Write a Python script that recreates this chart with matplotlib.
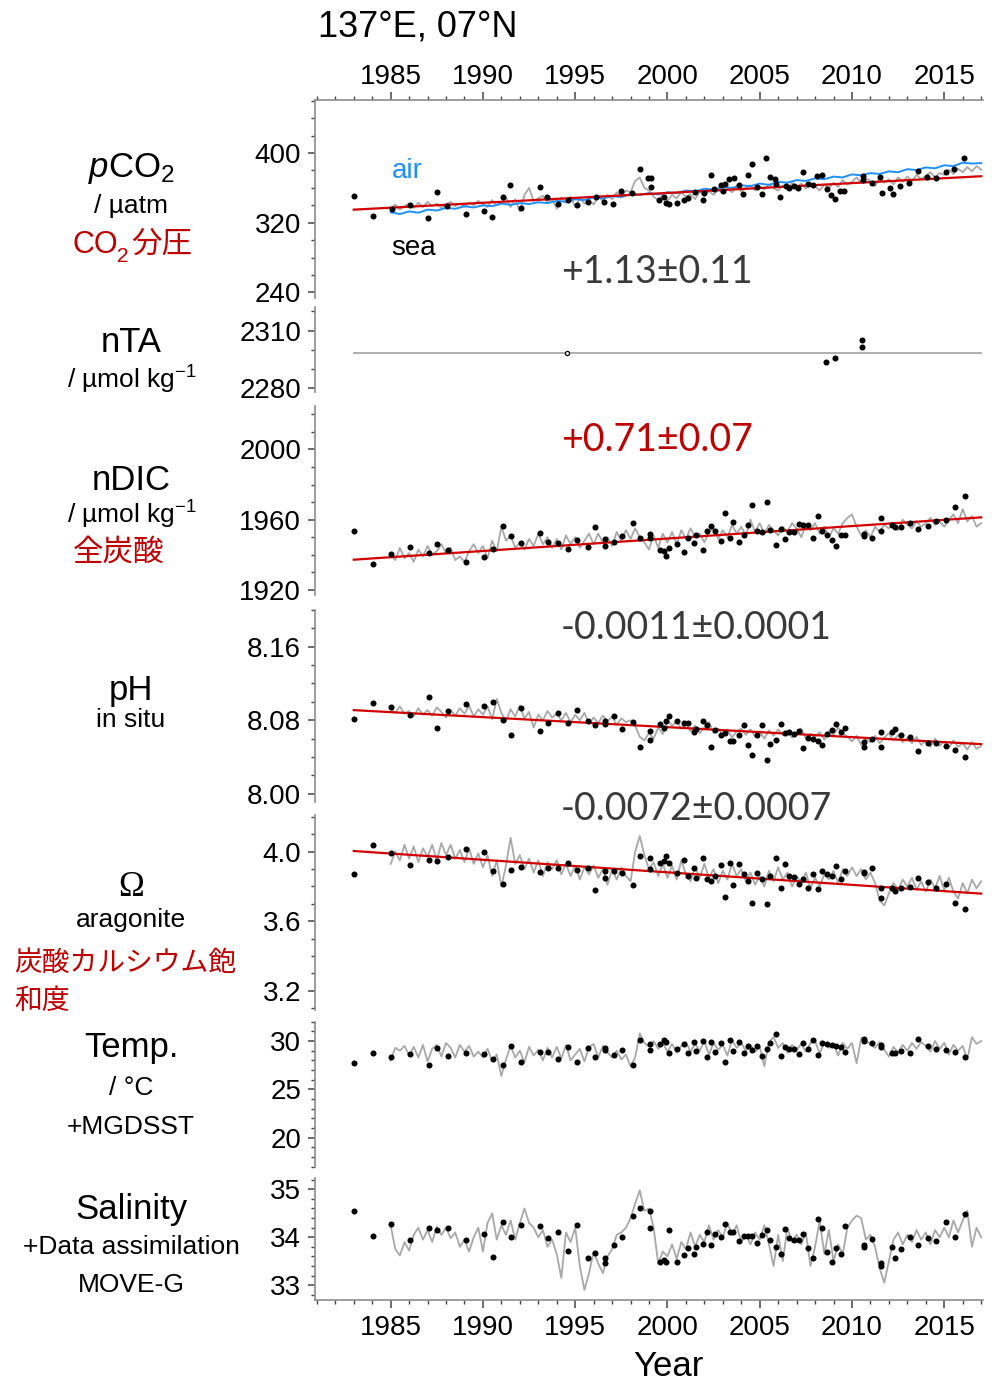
import numpy as np
import matplotlib
matplotlib.use("Agg")
import matplotlib.pyplot as plt
from matplotlib.ticker import MultipleLocator, FormatStrFormatter

plt.rcParams['font.family'] = ['Liberation Sans', 'Noto Sans CJK JP', 'DejaVu Sans']
plt.rcParams['mathtext.fontset'] = 'custom'
plt.rcParams['mathtext.rm'] = 'Liberation Sans'
plt.rcParams['mathtext.it'] = 'Liberation Sans:italic'

# --- data ---
# quarterly model/reanalysis series (grey), 1985.0 .. 2017.0
t_q = np.arange(1985, 2017.001, 0.25)
t_h = np.arange(1985, 2017.001, 0.5)

pco2_air = [332, 330, 333, 331.5, 335, 334, 337, 336, 339, 337.5, 340, 339, 342, 340.5,
            342.5, 341.5, 343.5, 342.5, 345, 344, 347, 346, 349, 348, 350.5, 349.5, 353, 352,
            354, 352.5, 355, 354, 357, 356, 359, 358, 361, 360, 363, 362, 365, 363.5, 367, 366,
            369, 368, 371, 370, 373, 372, 375.5, 374.5, 377, 376, 379, 378, 381.5, 380.5,
            383.5, 382.5, 386, 385, 389, 388, 388.5]
pco2_sea_model = [336, 341, 335, 339, 342, 337, 343, 338, 344, 339, 342, 337, 341, 344, 339, 342,
                  338, 343, 340, 345, 341, 338, 346, 340, 343, 349, 338, 347, 333, 352, 360, 345,
                  348, 351, 343, 347, 336, 349, 343, 350, 338, 348, 342, 346, 341, 350, 345, 352,
                  347, 355, 350, 357, 355, 368, 372, 360, 357, 350, 346, 352, 345, 352, 348, 355,
                  350, 353, 347, 356, 351, 356, 352, 358, 354, 359, 355, 361, 356, 360, 363, 357,
                  362, 358, 364, 360, 357, 363, 359, 366, 361, 365, 359, 366, 362, 357, 364, 360,
                  366, 361, 369, 364, 367, 372, 366, 371, 368, 362, 371, 366, 370, 364, 372, 367,
                  373, 368, 375, 370, 374, 378, 372, 377, 375, 381, 376, 382, 378, 384, 379, 385,
                  381]
pco2_yr = [1983.03, 1984.05, 1985.06, 1986.05, 1987.04, 1987.5, 1988.04, 1989.07, 1990.08, 1990.51,
           1991.07, 1991.49, 1992.07, 1993.1, 1993.47, 1994.05, 1994.6, 1995.09, 1995.72, 1996.12,
           1996.56, 1997.07, 1997.49, 1998.1, 1998.52, 1998.97, 1999.1, 1999.1, 1999.56, 1999.82,
           1999.92, 2000.1, 2000.54, 2000.87, 2001.1, 2001.5, 2001.95, 2002.0, 2002.35, 2002.53,
           2002.91, 2003.0, 2003.12, 2003.36, 2003.59, 2003.9, 2004.11, 2004.35, 2004.57, 2004.87,
           2005.11, 2005.36, 2005.56, 2005.83, 2005.87, 2006.1, 2006.41, 2006.59, 2006.86, 2007.1,
           2007.37, 2007.61, 2007.88, 2008.13, 2008.36, 2008.64, 2008.87, 2009.1, 2009.36, 2009.59,
           2010.59, 2010.59, 2011.08, 2011.53, 2011.6, 2012.07, 2012.24, 2012.61, 2013.11, 2013.57,
           2014.09, 2014.56, 2015.1, 2015.53, 2016.09]
pco2_obs = [351, 328, 336, 340, 325, 355, 339, 330, 333, 326,
            350, 363, 337, 361, 349, 341, 346, 340, 344, 350,
            344, 342, 356, 354, 382, 371, 371, 361, 346, 350,
            343, 342, 343, 346, 348, 355, 346, 354, 375, 359,
            363, 357, 365, 370, 371, 363, 353, 375, 387, 361,
            353, 394, 372, 370, 365, 350, 362, 360, 362, 360,
            378, 365, 363, 374, 375, 359, 352, 347, 357, 357,
            374, 369, 366, 373, 354, 360, 353, 362, 366, 379,
            372, 371, 378, 382, 394]
pco2_fit = [335.0, 373.4]

nta_mean = [2298, 2298]
nta_yr = [1994.56, 2008.6, 2009.08, 2010.55, 2010.55]
nta_obs = [2298, 2293.7, 2295.8, 2305, 2301.5]

trend_yr = [1983.0, 2017.0]

# cruise times shared by the nDIC / pH / Omega / T / S panels
cruise_yr = [1983.04, 1984.03, 1985.04, 1986.06, 1987.07, 1987.5, 1988.1, 1989.07, 1990.06, 1990.53,
             1991.09, 1991.5, 1992.08, 1993.09, 1993.52, 1994.08, 1994.6, 1995.09, 1995.7, 1996.1,
             1996.6, 1996.6, 1997.09, 1997.52, 1998.13, 1998.53, 1999.07, 1999.07, 1999.57, 1999.8,
             1999.9, 2000.08, 2000.51, 2000.87, 2001.1, 2001.43, 2001.57, 2001.95, 2002.13, 2002.36,
             2002.58, 2002.92, 2003.12, 2003.39, 2003.57, 2003.9, 2004.15, 2004.38, 2004.58, 2004.87,
             2005.14, 2005.37, 2005.57, 2005.86, 2006.13, 2006.38, 2006.6, 2006.87, 2007.12, 2007.37,
             2007.61, 2007.91, 2008.16, 2008.4, 2008.67, 2008.92, 2009.12, 2009.41, 2009.62, 2010.63,
             2010.63, 2011.1, 2011.55, 2011.59, 2012.16, 2012.31, 2012.65, 2013.17, 2013.57, 2014.11,
             2014.56, 2015.12, 2015.57, 2016.14]

ndic_obs = [1953.3, 1935.0, 1940.6, 1944.2, 1941.1, 1946.3, 1942.5, 1935.8, 1938.8, 1943.4,
            1956.6, 1950.6, 1946.5, 1952.4, 1947.2, 1946.8, 1943.2, 1948.4, 1944.2, 1955.6,
            1948.7, 1944.9, 1947.0, 1950.6, 1958.1, 1949.7, 1949.7, 1952.0, 1942.5, 1942.1,
            1939.2, 1944.0, 1945.9, 1941.5, 1949.7, 1946.6, 1951.2, 1942.5, 1953.7, 1956.4,
            1953.5, 1948.0, 1963.8, 1949.5, 1958.6, 1947.2, 1951.0, 1957.1, 1968.2, 1953.5,
            1952.9, 1970.1, 1953.9, 1945.5, 1954.8, 1948.7, 1952.7, 1952.9, 1957.5, 1957.1,
            1957.1, 1949.7, 1962.1, 1953.5, 1951.0, 1948.5, 1944.9, 1951.0, 1951.4, 1952.0,
            1950.6, 1949.5, 1961.1, 1953.5, 1957.1, 1955.8, 1955.8, 1958.3, 1954.8, 1956.4,
            1959.2, 1960.0, 1967.0, 1973.7]
ndic_model = [1940, 1937, 1944, 1938, 1941, 1936, 1943, 1939, 1945, 1940, 1942, 1946, 1941, 1944,
              1937, 1939, 1936, 1942, 1946, 1941, 1945, 1938, 1948, 1942, 1956, 1948, 1951, 1944,
              1947, 1943, 1949, 1945, 1952, 1946, 1950, 1944, 1949, 1943, 1951, 1946, 1950, 1944,
              1948, 1952, 1946, 1952, 1947, 1950, 1945, 1953, 1948, 1954, 1949, 1955, 1950, 1947,
              1943, 1951, 1944, 1952, 1947, 1953, 1946, 1954, 1949, 1955, 1950, 1952, 1947, 1953,
              1955, 1949, 1954, 1950, 1957, 1952, 1956, 1951, 1960, 1953, 1958, 1952, 1957, 1954,
              1951, 1956, 1953, 1958, 1955, 1950, 1957, 1954, 1958, 1952, 1956, 1950, 1955, 1952,
              1958, 1961, 1963, 1956, 1951, 1954, 1950, 1956, 1953, 1957, 1955, 1958, 1954, 1960,
              1957, 1955, 1959, 1956, 1958, 1961, 1957, 1959, 1956, 1960, 1963, 1958, 1966, 1959,
              1962, 1956, 1958]
ndic_fit = [1937.2, 1961.3]

ph_obs = [8.0815, 8.0990, 8.0946, 8.0858, 8.1055, 8.0720, 8.0902, 8.0975, 8.0953, 8.0997,
          8.0800, 8.0640, 8.0931, 8.0684, 8.0775, 8.0884, 8.0775, 8.0909, 8.0797, 8.0753,
          8.0789, 8.0760, 8.0844, 8.0709, 8.0782, 8.0505, 8.0589, 8.0684, 8.0764, 8.0720,
          8.0789, 8.0851, 8.0789, 8.0775, 8.0771, 8.0673, 8.0709, 8.0793, 8.0749, 8.0505,
          8.0691, 8.0640, 8.0662, 8.0571, 8.0571, 8.0636, 8.0746, 8.0527, 8.0425, 8.0636,
          8.0753, 8.0363, 8.0538, 8.0582, 8.0757, 8.0662, 8.0669, 8.0654, 8.0684, 8.0501,
          8.0611, 8.0600, 8.0574, 8.0531, 8.0654, 8.0698, 8.0764, 8.0673, 8.0720, 8.0563,
          8.0509, 8.0600, 8.0509, 8.0673, 8.0673, 8.0702, 8.0643, 8.0618, 8.0465, 8.0552,
          8.0556, 8.0523, 8.0472, 8.0399]
ph_model = [8.092, 8.088, 8.095, 8.087, 8.090, 8.084, 8.093, 8.086, 8.091, 8.085, 8.094, 8.089,
            8.083, 8.091, 8.085, 8.093, 8.087, 8.096, 8.084, 8.092, 8.086, 8.095, 8.081, 8.103,
            8.088, 8.079, 8.092, 8.084, 8.096, 8.082, 8.089, 8.072, 8.086, 8.080, 8.090, 8.083,
            8.087, 8.080, 8.088, 8.078, 8.086, 8.080, 8.088, 8.076, 8.083, 8.077, 8.085, 8.079,
            8.084, 8.075, 8.082, 8.078, 8.080, 8.074, 8.062, 8.058, 8.066, 8.060, 8.072, 8.065,
            8.080, 8.074, 8.079, 8.071, 8.076, 8.068, 8.074, 8.066, 8.072, 8.078, 8.066, 8.071,
            8.064, 8.070, 8.061, 8.068, 8.071, 8.064, 8.070, 8.062, 8.068, 8.060, 8.069, 8.063,
            8.070, 8.064, 8.068, 8.061, 8.066, 8.071, 8.060, 8.065, 8.062, 8.067, 8.059, 8.068,
            8.064, 8.072, 8.066, 8.062, 8.057, 8.063, 8.053, 8.060, 8.056, 8.063, 8.055, 8.061,
            8.066, 8.058, 8.064, 8.056, 8.061, 8.055, 8.062, 8.053, 8.058, 8.051, 8.060, 8.052,
            8.057, 8.050, 8.058, 8.051, 8.055, 8.048, 8.056, 8.049, 8.052]
ph_fit = [8.091, 8.054]

om_obs = [3.872, 4.036, 3.992, 3.926, 3.954, 3.945, 3.971, 4.015, 3.996, 3.889,
          3.813, 3.893, 3.912, 3.884, 3.905, 3.905, 3.933, 3.893, 3.909, 3.779,
          3.889, 3.849, 3.888, 3.880, 3.810, 3.977, 3.966, 3.899, 3.935, 3.947,
          3.973, 3.937, 3.880, 3.950, 3.859, 3.909, 3.848, 3.966, 3.842, 3.832,
          3.859, 3.926, 3.737, 3.933, 3.810, 3.931, 3.874, 3.829, 3.703, 3.880,
          3.842, 3.697, 3.859, 3.962, 3.790, 3.931, 3.861, 3.855, 3.813, 3.842,
          3.794, 3.870, 3.783, 3.889, 3.870, 3.861, 3.920, 3.845, 3.889, 3.878,
          3.886, 3.905, 3.731, 3.794, 3.789, 3.775, 3.794, 3.798, 3.849, 3.827,
          3.794, 3.813, 3.703, 3.670]
om_model = [3.93, 4.00, 3.95, 4.04, 3.96, 4.03, 3.94, 4.02, 3.97, 4.04, 3.95, 4.05,
            3.98, 4.04, 3.96, 4.01, 3.94, 4.02, 3.93, 3.99, 3.91, 3.98, 3.86, 3.95,
            3.80, 3.92, 4.08, 3.93, 3.98, 3.90, 3.96, 3.88, 3.95, 3.86, 3.94, 3.90,
            3.95, 3.87, 3.93, 3.86, 3.92, 3.84, 3.91, 3.87, 3.92, 3.85, 3.90, 3.81,
            3.90, 3.84, 3.91, 3.86, 3.83, 4.00, 4.09, 3.98, 3.90, 3.94, 3.86, 3.93,
            3.85, 3.92, 3.84, 3.95, 3.87, 3.83, 3.91, 3.85, 3.93, 3.85, 3.90, 3.82,
            3.89, 3.84, 3.93, 3.86, 3.90, 3.83, 3.88, 3.81, 3.86, 3.80, 3.89, 3.83,
            3.91, 3.84, 3.88, 3.80, 3.86, 3.82, 3.88, 3.79, 3.85, 3.80, 3.87, 3.84,
            3.89, 3.82, 3.90, 3.86, 3.91, 3.86, 3.90, 3.84, 3.88, 3.82, 3.72, 3.69,
            3.76, 3.82, 3.78, 3.84, 3.80, 3.85, 3.78, 3.83, 3.77, 3.84, 3.79, 3.86,
            3.78, 3.85, 3.77, 3.73, 3.82, 3.76, 3.84, 3.79, 3.83]
om_fit = [4.004, 3.759]

temp_obs = [27.74, 28.72, 28.33, 28.65, 27.57, 29.24, 28.47, 28.78, 28.61, 28.12,
            27.57, 29.51, 27.78, 28.89, 28.89, 28.16, 29.41, 27.78, 29.31, 28.40,
            29.31, 29.06, 28.54, 29.06, 27.50, 30.10, 29.65, 29.06, 29.72, 30.07,
            29.93, 28.72, 29.17, 29.65, 28.75, 29.86, 28.99, 30.00, 28.30, 29.86,
            28.82, 29.79, 27.78, 30.07, 28.99, 29.93, 28.72, 29.48, 29.10, 29.44,
            28.44, 29.13, 29.83, 30.69, 28.47, 29.41, 29.13, 29.17, 28.61, 29.76,
            29.17, 30.07, 28.54, 29.83, 29.69, 29.58, 29.48, 29.41, 28.89, 30.21,
            30.03, 29.79, 29.58, 29.34, 28.78, 28.78, 28.99, 28.78, 30.21, 29.51,
            29.17, 29.06, 28.82, 28.30]
temp_sst = [28.0, 29.3, 29.0, 29.5, 28.5, 29.4, 28.3, 29.6, 27.9, 29.2, 29.6, 28.4,
            29.8, 29.3, 28.3, 29.6, 28.9, 29.5, 28.4, 28.9, 28.3, 29.2, 27.9, 28.6,
            26.4, 28.1, 29.5, 28.3, 29.0, 27.8, 29.4, 28.5, 29.1, 28.0, 29.3, 28.3,
            29.4, 28.2, 29.6, 28.0, 28.6, 29.2, 27.9, 29.4, 29.7, 28.3, 29.5, 28.8,
            28.3, 29.0, 28.1, 28.6, 27.4, 28.3, 30.8, 29.8, 29.4, 30.0, 29.2, 29.8,
            28.9, 29.7, 28.8, 29.5, 29.9, 28.9, 29.7, 29.0, 30.0, 28.6, 29.8, 29.1,
            29.6, 28.5, 30.1, 29.3, 29.8, 29.0, 29.6, 28.9, 29.4, 27.4, 29.9, 30.4,
            29.3, 29.8, 28.8, 29.6, 29.1, 29.7, 28.9, 29.8, 30.0, 28.7, 29.9, 29.3,
            29.7, 28.5, 29.8, 29.2, 29.8, 27.7, 30.3, 30.1, 29.6, 29.3, 29.9, 29.1,
            28.4, 29.4, 28.8, 29.6, 29.0, 29.8, 29.2, 29.9, 29.5, 28.9, 30.0, 29.2,
            29.8, 28.6, 29.6, 29.0, 29.5, 28.1, 30.4, 29.7, 30.0]

sal_obs = [34.555, 34.020, 34.284, 33.937, 34.187, 34.152, 34.194, 33.944, 34.069, 33.583,
           34.312, 33.999, 34.263, 34.229, 33.992, 34.103, 33.708, 34.256, 33.562, 33.673,
           33.465, 33.560, 33.847, 33.999, 34.437, 34.617, 34.548, 34.201, 33.492, 33.527,
           33.492, 34.152, 33.485, 33.631, 33.784, 33.645, 33.798, 33.867, 34.103, 33.840,
           34.069, 33.999, 34.270, 34.117, 34.117, 33.923, 34.034, 34.034, 34.027, 33.874,
           34.048, 34.152, 33.944, 33.805, 33.645, 34.173, 33.992, 33.944, 33.944, 34.069,
           33.770, 33.562, 34.381, 34.187, 33.687, 33.492, 33.770, 33.645, 34.236, 33.840,
           33.790, 33.965, 33.458, 33.402, 33.805, 33.562, 33.756, 34.013, 33.840, 33.979,
           33.930, 34.312, 34.013, 34.478]
sal_reanalysis = [34.25, 33.75, 33.62, 33.90, 33.72, 34.05, 34.20, 33.95, 34.15, 33.90, 34.22, 34.05,
                  34.20, 33.98, 34.10, 33.80, 33.95, 33.70, 34.00, 34.20, 33.70, 34.30, 34.50, 33.95,
                  34.25, 34.05, 34.35, 33.95, 34.30, 34.60, 34.30, 34.20, 34.00, 34.15, 33.80, 33.95,
                  33.65, 33.15, 34.10, 33.90, 34.20, 33.40, 32.90, 33.25, 33.70, 33.45, 33.25, 33.60,
                  33.75, 34.05, 34.10, 34.20, 34.40, 34.70, 34.98, 34.55, 34.60, 34.20, 33.45, 33.70,
                  33.60, 33.85, 33.55, 33.90, 33.75, 34.10, 33.80, 34.05, 33.90, 34.25, 33.95, 34.15,
                  34.00, 34.30, 34.05, 34.25, 33.90, 34.05, 33.85, 34.10, 33.95, 34.25, 33.85, 33.40,
                  34.05, 33.50, 34.20, 33.90, 34.05, 33.85, 34.10, 33.40, 33.80, 34.35, 33.65, 34.15,
                  33.50, 33.85, 33.65, 34.20, 34.35, 34.45, 34.40, 33.95, 34.05, 33.80, 33.35, 33.05,
                  33.50, 33.95, 34.10, 33.85, 34.05, 33.90, 34.15, 33.95, 34.10, 33.85, 34.15, 34.00,
                  34.20, 34.00, 34.35, 34.10, 34.35, 34.55, 33.80, 34.20, 34.00]

year_ticks = [1985, 1990, 1995, 2000, 2005, 2010, 2015]

# --- layout in pixels ---
W, H = 992, 1384
X0, X1 = 315, 983
XLIM = (1980.9, 2017.1)
GREY = '#a8a8a8'
RED = '#d40000'
TXTRED = '#c00000'
SPINE = '#8c8c8c'

fig = plt.figure(figsize=(W / 100, H / 100), dpi=100)


def box(top, bot):
    return [X0 / W, 1 - bot / H, (X1 - X0) / W, (bot - top) / H]


def ftext(px, py, s, **kw):
    kw.setdefault('va', 'center')
    kw.setdefault('ha', 'center')
    return fig.text(px / W, 1 - py / H, s, **kw)


def year_axis(xax, pad):
    xax.set_ticks(year_ticks)
    xax.set_minor_locator(MultipleLocator(1))
    xax.set_tick_params(which='both', direction='out', labelsize=20, color='#444444')
    xax.set_tick_params(which='major', length=6, width=1.1, pad=pad)
    xax.set_tick_params(which='minor', length=3, width=1.0)


# outer frame: year axis at the bottom, a secondary one on top
frame = fig.add_axes(box(100, 1300))
frame.set_xlim(*XLIM)
frame.set_ylim(0, 1)
frame.patch.set_visible(False)
for side in ['left', 'right', 'top']:
    frame.spines[side].set_visible(False)
frame.spines['bottom'].set_color(SPINE)
frame.spines['bottom'].set_linewidth(1.2)
frame.set_yticks([])
year_axis(frame.xaxis, 5)

top = frame.secondary_xaxis('top')
top.spines['top'].set_color(SPINE)
top.spines['top'].set_linewidth(1.2)
year_axis(top.xaxis, 1)


def panel(top, bot, ylim, major, minor, fmt):
    ax = fig.add_axes(box(top, bot))
    ax.set_xlim(*XLIM)
    ax.set_ylim(*ylim)
    ax.patch.set_visible(False)
    for side in ['top', 'right', 'bottom']:
        ax.spines[side].set_visible(False)
    ax.spines['left'].set_color(SPINE)
    ax.spines['left'].set_linewidth(1.2)
    ax.set_xticks([])
    ax.set_yticks(major)
    ax.yaxis.set_minor_locator(MultipleLocator(minor))
    ax.yaxis.set_major_formatter(FormatStrFormatter(fmt))
    ax.tick_params(axis='y', which='both', direction='out', labelsize=20, color='#444444', pad=5)
    ax.tick_params(axis='y', which='major', length=5, width=1.1)
    ax.tick_params(axis='y', which='minor', length=3, width=1.0)
    return ax


def dots(ax, x, y):
    ax.scatter(x, y, s=19, color='black', zorder=4, linewidths=0)


# pCO2
ax = panel(100, 298, (233.5, 461), [240, 320, 400], 20, '%d')
ax.plot(t_q, pco2_sea_model, color=GREY, lw=1.3, zorder=2)
ax.plot(t_h, pco2_air, color='#1e90ff', lw=1.4, zorder=2)
ax.plot(trend_yr, pco2_fit, color=RED, lw=1.6, zorder=3)
dots(ax, pco2_yr, pco2_obs)

# nTA
ax = panel(306.7, 391.7, (2278, 2322.5), [2280, 2310], 10, '%d')
ax.plot(trend_yr, nta_mean, color=GREY, lw=1.3)
ax.scatter(nta_yr[:1], nta_obs[:1], s=9, facecolor='white', edgecolor='black', linewidths=0.9, zorder=4)
dots(ax, nta_yr[1:], nta_obs[1:])

# nDIC
ax = panel(406, 595, (1917.1, 2024.7), [1920, 1960, 2000], 10, '%d')
ax.plot(t_q, ndic_model, color=GREY, lw=1.3, zorder=2)
ax.plot(trend_yr, ndic_fit, color=RED, lw=1.6, zorder=3)
dots(ax, cruise_yr, ndic_obs)

# pH
ax = panel(610, 802, (7.991, 8.2), [8.00, 8.08, 8.16], 0.02, '%.2f')
ax.plot(t_q, ph_model, color=GREY, lw=1.3, zorder=2)
ax.plot(trend_yr, ph_fit, color=RED, lw=1.6, zorder=3)
dots(ax, cruise_yr, ph_obs)

# Omega aragonite
ax = panel(815, 1010, (3.09, 4.211), [3.2, 3.6, 4.0], 0.1, '%.1f')
ax.plot(t_q, om_model, color=GREY, lw=1.3, zorder=2)
ax.plot(trend_yr, om_fit, color=RED, lw=1.6, zorder=3)
dots(ax, cruise_yr, om_obs)

# temperature
ax = panel(1021.7, 1166.7, (17, 32), [20, 25, 30], 1, '%d')
ax.plot(t_q, temp_sst, color=GREY, lw=1.3, zorder=2)
dots(ax, cruise_yr, temp_obs)

# salinity
ax = panel(1178.3, 1300, (32.69, 35.23), [33, 34, 35], 0.2, '%d')
ax.plot(t_q, sal_reanalysis, color=GREY, lw=1.3, zorder=2)
dots(ax, cruise_yr, sal_obs)

# --- texts ---
ftext(318, 27, '137°E, 07°N', ha='left', fontsize=26)
ftext(668, 1366, 'Year', fontsize=25)

ftext(407, 171, 'air', fontsize=20, color='#1e90ff')
ftext(414, 248, 'sea', fontsize=20, color='black')

trend = dict(family=['Lato', 'DejaVu Sans'], weight='normal', fontsize=27, ha='left')
ftext(561, 272, '+1.13±0.11', color='#3a3a3a', **trend)
ftext(561, 440, '+0.71±0.07', color=TXTRED, **trend)
ftext(561, 628, '-0.0011±0.0001', color='#3a3a3a', **trend)
ftext(561, 809, '-0.0072±0.0007', color='#3a3a3a', **trend)

BIG, SUB, JP = 25, 19, 22
jp = ['Noto Sans CJK JP', 'DejaVu Sans']
ftext(131, 169, r'$\mathit{p}$CO$_2$', fontsize=BIG)
ftext(131, 206, '/ µatm', fontsize=SUB)
ftext(73, 245, 'CO', ha='left', fontsize=JP, color=TXTRED)
ftext(117, 256, '2', ha='left', fontsize=15, color=TXTRED)
ftext(131, 244, '分圧', ha='left', fontsize=JP, color=TXTRED, family=jp)

ftext(131, 343, 'nTA', fontsize=BIG)
ftext(132, 380, r'/ µmol kg$^{\mathregular{-1}}$', fontsize=SUB)

ftext(131, 480, 'nDIC', fontsize=BIG)
ftext(132, 515, r'/ µmol kg$^{\mathregular{-1}}$', fontsize=SUB)
ftext(73, 552, '全炭酸', ha='left', fontsize=JP, color=TXTRED, family=jp)

ftext(131, 690, 'pH', fontsize=BIG)
ftext(131, 720, 'in situ', fontsize=SUB)

ftext(131, 888, 'Ω', fontsize=BIG, family='Liberation Serif')
ftext(131, 920, 'aragonite', fontsize=SUB)
ftext(14, 963, '炭酸カルシウム飽', ha='left', fontsize=20, color=TXTRED, family=jp)
ftext(14, 1001, '和度', ha='left', fontsize=20, color=TXTRED, family=jp)

ftext(131, 1048, 'Temp.', fontsize=BIG)
ftext(131, 1088, '/ °C', fontsize=SUB)
ftext(131, 1127, '+MGDSST', fontsize=SUB)

ftext(131, 1210, 'Salinity', fontsize=BIG)
ftext(131, 1247, '+Data assimilation', fontsize=SUB)
ftext(131, 1285, 'MOVE-G', fontsize=SUB)

fig.savefig('out.png', dpi=100)
